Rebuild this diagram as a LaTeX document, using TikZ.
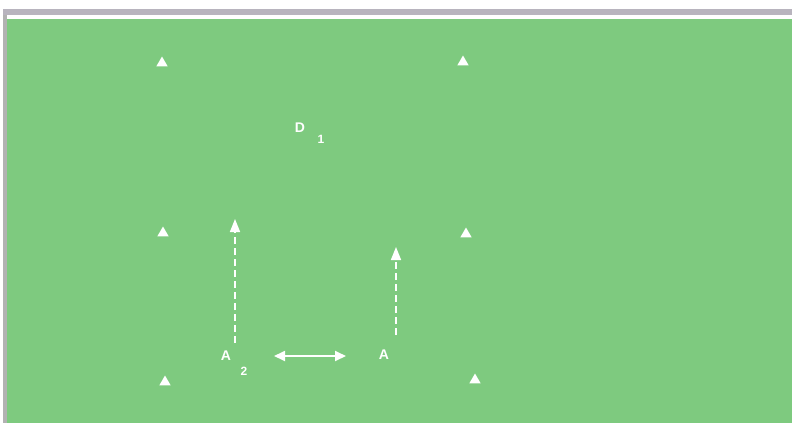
\documentclass[tikz,border=0pt]{standalone}
\usepackage{fontspec}
\setmainfont{Liberation Sans}
\usetikzlibrary{shapes.geometric,arrows.meta}
\definecolor{pitch}{RGB}{126,202,127}
\definecolor{frame}{RGB}{184,180,190}
\tikzset{
  cone/.style={regular polygon,regular polygon sides=3,fill=white,inner sep=0pt,minimum size=13pt},
  player/.style={text=white,font=\bfseries\fontsize{14}{14}\selectfont,inner sep=0pt},
  sub/.style={text=white,font=\bfseries\fontsize{12}{12}\selectfont,inner sep=0pt},
  run/.style={draw=white,line width=1.6pt,dash pattern=on 7pt off 4pt,-{Triangle[width=10pt,length=13pt]}},
  pass/.style={draw=white,line width=1.8pt,{Triangle[width=10pt,length=11pt]}-{Triangle[width=10pt,length=11pt]}}
}
\begin{document}
\begin{tikzpicture}[x=1pt,y=-1pt]
  \useasboundingbox (0,0) rectangle (792,426);
  % frame and pitch
  \fill[white] (0,0) rectangle (792,426);
  \fill[frame] (3,9) rectangle (792,15);
  \fill[pitch] (7,19) rectangle (792,423);
  \fill[gray!60] (3,15) rectangle (7,423);
  % cones
  \node[cone] (c1) at (162,63) {};
  \node[cone] (c2) at (463,62) {};
  \node[cone] (c3) at (163,233) {};
  \node[cone] (c4) at (466,234) {};
  \node[cone] (c5) at (165,382) {};
  \node[cone] (c6) at (475,380) {};
  % players
  \node[player] (d1) at (300,128) {D};
  \node[sub] (d1s) at (321,139) {1};
  \node[player] (a2) at (226,356) {A};
  \node[sub] (a2s) at (244,371) {2};
  \node[player] (a) at (384,355) {A};
  % runs
  \coordinate (a2from) at (235,343); \coordinate (a2to) at (235,219);
  \coordinate (afrom) at (396,335); \coordinate (ato) at (396,247);
  \draw[run] (a2from) -- (a2to);
  \draw[run] (afrom) -- (ato);
  % pass
  \coordinate (pl) at (274,356); \coordinate (pr) at (346,356);
  \draw[pass] (pl) -- (pr);
\end{tikzpicture}
\end{document}
